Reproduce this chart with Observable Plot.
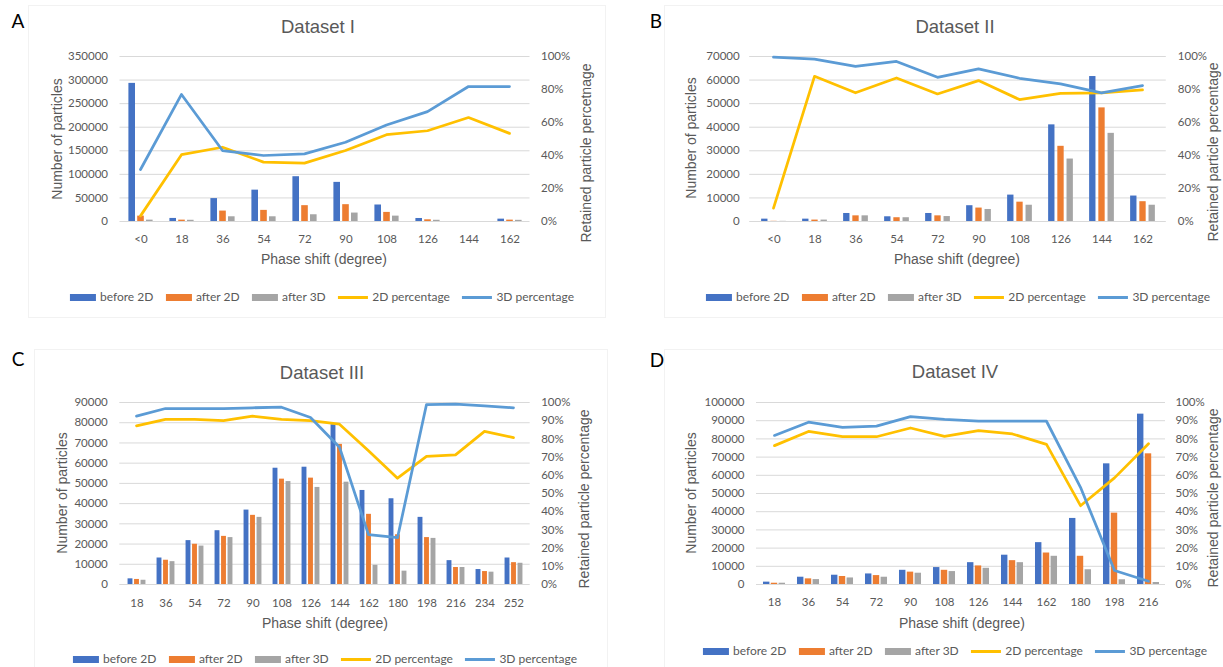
<!DOCTYPE html>
<html><head><meta charset="utf-8">
<script src="https://cdn.jsdelivr.net/npm/d3@7"></script>
<script src="https://cdn.jsdelivr.net/npm/@observablehq/plot@0.6"></script>
<style>
html,body{margin:0;padding:0;background:#fff;}
#page{position:relative;width:1223px;height:667px;overflow:hidden;background:#fff;}
#page svg{position:absolute;left:0;top:0;}
.t{position:absolute;white-space:nowrap;transform:translate(-50%,-50%);color:#595959;font-family:"Liberation Sans",Arial,sans-serif;line-height:1;}
.title{font-size:18.5px;}
.axt{font-size:14px;}
.rot{transform:translate(-50%,-50%) rotate(-90deg);}
.letter{font-family:Lato,"Liberation Sans",sans-serif;font-size:19px;color:#000;}
.legend{position:absolute;display:flex;gap:12.5px;transform:translate(-50%,-50%);font-family:Lato,"Liberation Sans",sans-serif;font-size:12px;color:#595959;white-space:nowrap;align-items:center;line-height:1;}
.item{display:flex;align-items:center;gap:4px;}
.sw{width:26px;height:7px;}
.ln{width:30px;height:3px;}
.frame{position:absolute;border:1px solid #f2f2f2;}
</style>
</head><body>
<div id="page"></div>
<script>
// ---------- data ----------
const catsAB = ["<0","18","36","54","72","90","108","126","144","162"];
const catsC = ["18","36","54","72","90","108","126","144","162","180","198","216","234","252"];
const catsD = ["18","36","54","72","90","108","126","144","162","180","198","216"];

const yTicksA = [0,50000,100000,150000,200000,250000,300000,350000];
const yTicksB = [0,10000,20000,30000,40000,50000,60000,70000];
const yTicksC = [0,10000,20000,30000,40000,50000,60000,70000,80000,90000];
const yTicksD = [0,10000,20000,30000,40000,50000,60000,70000,80000,90000,100000];
const pctTicks20 = [0,0.2,0.4,0.6,0.8,1];
const pctTicks10 = [0,0.1,0.2,0.3,0.4,0.5,0.6,0.7,0.8,0.9,1];

const seriesNames = ["before 2D","after 2D","after 3D","2D percentage","3D percentage"];

const A_before = [293000,6500,48600,66500,95000,83000,35000,6400,0,5000];
const A_after2D = [11400,2900,22100,23600,33600,35700,19300,3600,0,2900];
const A_after3D = [2900,2600,10000,10000,14300,17900,11400,2600,0,2500];
const A_pct2D = [0.034,0.405,0.45,0.36,0.354,0.43,0.526,0.55,0.63,0.534];
const A_pct3D = [0.315,0.77,0.43,0.40,0.41,0.48,0.585,0.666,0.818,0.818];

const B_before = [1000,1000,3400,2000,3400,6700,11200,41000,61500,10800];
const B_after2D = [80,600,2400,1600,2400,5700,8200,31900,48200,8400];
const B_after3D = [70,600,2400,1600,2100,5100,6900,26500,37400,6900];
const B_pct2D = [0.081,0.88,0.78,0.87,0.773,0.854,0.739,0.777,0.78,0.798];
const B_pct3D = [0.996,0.984,0.94,0.97,0.874,0.925,0.868,0.834,0.78,0.824];

const C_before = [2800,13100,21700,26600,36800,57500,58000,79000,46500,42400,33200,11800,7400,13100];
const C_after2D = [2500,12000,19900,23800,34200,52100,52600,69300,34700,24600,23200,8400,6400,10800];
const C_after3D = [2100,11300,19000,23200,33200,50900,48000,50600,9500,6600,22800,8400,6100,10500];
const C_pct2D = [0.872,0.907,0.907,0.90,0.925,0.907,0.90,0.881,0.735,0.584,0.704,0.712,0.841,0.807];
const C_pct3D = [0.925,0.967,0.967,0.967,0.971,0.974,0.918,0.754,0.274,0.257,0.989,0.991,0.982,0.971];

const D_before = [1300,4000,5100,5800,7800,9300,12000,16100,23000,36300,66300,93600];
const D_after2D = [700,3100,4400,4900,6800,7800,10200,13100,17300,15500,39200,71800];
const D_after3D = [700,2700,3600,4000,6200,7100,8900,12000,15500,8100,2600,1100];
const D_pct2D = [0.763,0.841,0.812,0.812,0.86,0.814,0.845,0.827,0.77,0.433,0.586,0.773];
const D_pct3D = [0.819,0.892,0.863,0.87,0.922,0.907,0.898,0.898,0.897,0.534,0.077,0.018];

// ---------- styling ----------
const colors = ["#4472c4","#ed7d31","#a5a5a5","#ffc000","#5b9bd5"];
const W = 1223, H = 667;
const page = document.getElementById("page");

function addText(txt, x, y, cls){
  const d = document.createElement("div");
  d.className = "t " + cls;
  d.textContent = txt;
  d.style.left = x + "px"; d.style.top = y + "px";
  page.appendChild(d);
}
function addFrame(x1,y1,x2,y2){
  const d = document.createElement("div");
  d.className = "frame";
  d.style.left = x1+"px"; d.style.top = y1+"px";
  d.style.width = (x2-x1)+"px"; d.style.height = (y2-y1)+"px";
  page.appendChild(d);
}
function addLegend(x, y){
  const lg = document.createElement("div");
  lg.className = "legend";
  lg.style.left = x+"px"; lg.style.top = y+"px";
  seriesNames.forEach((n,i)=>{
    const it = document.createElement("div"); it.className="item";
    const s = document.createElement("div"); s.className = i<3 ? "sw" : "ln";
    s.style.background = colors[i];
    const t = document.createElement("span"); t.textContent = n;
    it.appendChild(s); it.appendChild(t); lg.appendChild(it);
  });
  page.appendChild(lg);
}

function makePanel(p){
  const rows = p.cats.map((c,i)=>({cat:c, before:p.before[i], a2:p.after2D[i], a3:p.after3D[i], p2:p.pct2D[i], p3:p.pct3D[i]}));
  const step = (p.R - p.L)/p.cats.length;
  const ins = (step - p.w)/2;
  const base = {
    width: W, height: H,
    marginLeft: p.L, marginRight: W - p.R, marginTop: p.T, marginBottom: H - p.B,
    style: {background:"transparent", fontFamily:"Lato, 'Liberation Sans', sans-serif", fontSize:"11.5px", color:"#595959", overflow:"visible"}
  };
  const bars = Plot.plot({
    ...base,
    x: {type:"band", domain:p.cats, padding:0, align:0.5},
    y: {domain:[0,p.yMax]},
    marks: [
      Plot.gridY(p.yTicks, {stroke:"#d9d9d9", strokeOpacity:1}),
      Plot.barY(rows, {x:"cat", y:"before", fill:colors[0], dx:-p.pitch, insetLeft:ins, insetRight:ins}),
      Plot.barY(rows, {x:"cat", y:"a2", fill:colors[1], insetLeft:ins, insetRight:ins}),
      Plot.barY(rows, {x:"cat", y:"a3", fill:colors[2], dx:p.pitch, insetLeft:ins, insetRight:ins}),
      Plot.axisY(p.yTicks, {tickSize:0, tickPadding:p.padL, label:null, tickFormat:d=>String(d)}),
      Plot.axisX({tickSize:0, tickPadding:p.padX, label:null})
    ]
  });
  const lines = Plot.plot({
    ...base,
    x: {type:"point", domain:p.cats, padding:0.5, align:0.5, axis:null},
    y: {domain:[0,1]},
    marks: [
      Plot.line(rows, {x:"cat", y:"p2", stroke:colors[3], strokeWidth:2.75, strokeLinejoin:"round", strokeLinecap:"round"}),
      Plot.line(rows, {x:"cat", y:"p3", stroke:colors[4], strokeWidth:2.75, strokeLinejoin:"round", strokeLinecap:"round"}),
      Plot.axisY(p.pctTicks, {anchor:"right", tickSize:0, tickPadding:p.padR, label:null, tickFormat:d=>Math.round(d*100)+"%"})
    ]
  });
  page.appendChild(bars);
  page.appendChild(lines);
  addText(p.letter, p.letterXY[0], p.letterXY[1], "letter");
  addText(p.title, p.titleXY[0], p.titleXY[1], "title");
  addText("Number of particles", p.leftXY[0], p.leftXY[1], "axt rot");
  addText(p.right, p.rightXY[0], p.rightXY[1], "axt rot");
  addText("Phase shift (degree)", p.xtXY[0], p.xtXY[1], "axt");
  addLegend(p.legXY[0], p.legXY[1]);
}

addFrame(28,5,604,316);
addFrame(664,5,1230,316);
addFrame(34,349,606,680);
addFrame(664,349,1230,680);

makePanel({cats:catsAB, before:A_before, after2D:A_after2D, after3D:A_after3D, pct2D:A_pct2D, pct3D:A_pct3D,
  L:119.5, R:529.5, T:56, B:221, yMax:350000, yTicks:yTicksA, pctTicks:pctTicks20,
  pitch:8.8, w:6.6, padL:12, padR:11, padX:13,
  letter:"A", letterXY:[18,20], title:"Dataset I", titleXY:[318,27],
  leftXY:[57,139], right:"Retained particle percetnage", rightXY:[586,153], xtXY:[324,259], legXY:[322,297]});

makePanel({cats:catsAB, before:B_before, after2D:B_after2D, after3D:B_after3D, pct2D:B_pct2D, pct3D:B_pct3D,
  L:749.2, R:1165.8, T:56, B:221, yMax:70000, yTicks:yTicksB, pctTicks:pctTicks20,
  pitch:9.2, w:7, padL:10, padR:11.5, padX:13,
  letter:"B", letterXY:[656,20], title:"Dataset II", titleXY:[955,27],
  leftXY:[691,138], right:"Retained particle percentage", rightXY:[1213,152], xtXY:[957,259], legXY:[958,297]});

makePanel({cats:catsC, before:C_before, after2D:C_after2D, after3D:C_after3D, pct2D:C_pct2D, pct3D:C_pct3D,
  L:119.3, R:529.7, T:402, B:584, yMax:90000, yTicks:yTicksC, pctTicks:pctTicks10,
  pitch:6.5, w:5.2, padL:12, padR:11, padX:14,
  letter:"C", letterXY:[18,358], title:"Dataset III", titleXY:[322,373],
  leftXY:[62,493], right:"Retained particle percentage", rightXY:[584,499], xtXY:[325,623], legXY:[325,659]});

makePanel({cats:catsD, before:D_before, after2D:D_after2D, after3D:D_after3D, pct2D:D_pct2D, pct3D:D_pct3D,
  L:756, R:1165, T:402, B:584, yMax:100000, yTicks:yTicksD, pctTicks:pctTicks10,
  pitch:7.8, w:6.5, padL:12, padR:10, padX:13,
  letter:"D", letterXY:[657,359], title:"Dataset IV", titleXY:[955,372],
  leftXY:[691,493], right:"Retained particle percentage", rightXY:[1213,498], xtXY:[962,623], legXY:[955,651]});
</script>
</body></html>
